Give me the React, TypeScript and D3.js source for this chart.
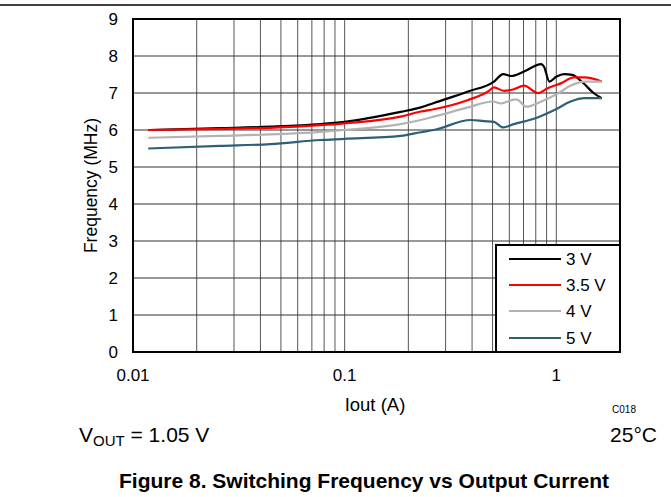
import React from "react";
import * as d3 from "d3";

const yTicks = [0, 1, 2, 3, 4, 5, 6, 7, 8, 9];
const xTickLabels = ["0.01", "0.1", "1"];
const xTickValues = [0.01, 0.1, 1];

const seriesNames = ["3 V", "3.5 V", "4 V", "5 V"];
const seriesColors = ["#000000", "#ff0000", "#b3b3b3", "#2e5f78"];

const s3V: [number, number][] = [
  [0.0118, 6.0], [0.0258, 6.05], [0.0446, 6.09], [0.077, 6.16], [0.1, 6.22],
  [0.184, 6.49], [0.229, 6.61], [0.264, 6.73], [0.383, 7.04], [0.508, 7.31],
  [0.561, 7.51], [0.612, 7.46], [0.704, 7.58], [0.849, 7.78], [0.875, 7.71],
  [0.927, 7.31], [1.0, 7.44], [1.09, 7.51], [1.19, 7.49], [1.34, 7.27],
  [1.5, 7.0], [1.64, 6.86],
];
const s35V: [number, number][] = [
  [0.0118, 6.0], [0.0258, 6.03], [0.0446, 6.06], [0.077, 6.13], [0.1, 6.18],
  [0.184, 6.36], [0.229, 6.5], [0.264, 6.56], [0.383, 6.81], [0.476, 7.04],
  [0.508, 7.15], [0.566, 7.06], [0.63, 7.1], [0.704, 7.2], [0.82, 7.0],
  [0.91, 7.13], [1.05, 7.26], [1.21, 7.42], [1.36, 7.42], [1.64, 7.31],
];
const s4V: [number, number][] = [
  [0.0118, 5.79], [0.0258, 5.84], [0.0446, 5.88], [0.077, 5.95], [0.1, 6.0],
  [0.184, 6.16], [0.229, 6.27], [0.264, 6.36], [0.383, 6.61], [0.5, 6.77],
  [0.55, 6.72], [0.64, 6.83], [0.66, 6.81], [0.72, 6.63], [0.85, 6.77],
  [1.02, 6.99], [1.17, 7.2], [1.36, 7.31], [1.64, 7.31],
];
const s5V: [number, number][] = [
  [0.0118, 5.5], [0.0258, 5.57], [0.0446, 5.62], [0.077, 5.73], [0.1, 5.76],
  [0.184, 5.84], [0.229, 5.94], [0.264, 6.0], [0.395, 6.27], [0.455, 6.24],
  [0.508, 6.22], [0.56, 6.07], [0.63, 6.16], [0.79, 6.31], [0.98, 6.54],
  [1.17, 6.77], [1.36, 6.86], [1.64, 6.86],
];
const seriesData = [s3V, s35V, s4V, s5V];

const W = 671;
const H = 497;
const L = 133, R = 620, T = 19, B = 352;
const FONT = "Liberation Sans, Arial, sans-serif";

export default function App() {
  const x = d3.scaleLog().domain([0.01, 2]).range([L, R]);
  const y = d3.scaleLinear().domain([0, 9]).range([B, T]);

  const minor: number[] = [];
  for (const dec of [0.01, 0.1, 1]) {
    for (let k = 1; k <= 9; k++) {
      const v = dec * k;
      if (v > 0.01 && v < 2) minor.push(v);
    }
  }

  const line = d3
    .line<[number, number]>()
    .x((d) => x(d[0]))
    .y((d) => y(d[1]))
    .curve(d3.curveMonotoneX);

  const legX = 496, legY = 245, legW = 124, legH = 107;
  const rowY = [259, 285, 311, 338];

  return (
    <svg
      width={W}
      height={H}
      style={{ position: "absolute", left: 0, top: 0, background: "#fff" }}
      fontFamily={FONT}
    >
      <rect x={0} y={0} width={W} height={H} fill="#fff" />
      <line x1={0} x2={W} y1={5} y2={5} stroke="#000" strokeWidth={1.5} />

      {/* grid */}
      {minor.map((v, i) => (
        <line key={"vx" + i} x1={x(v)} x2={x(v)} y1={T} y2={B} stroke="#555" strokeWidth={1} />
      ))}
      {yTicks.slice(1, -1).map((v) => (
        <line key={"hy" + v} x1={L} x2={R} y1={y(v)} y2={y(v)} stroke="#333" strokeWidth={1} />
      ))}

      {/* series */}
      {seriesData.map((d, i) => (
        <path key={i} d={line(d) || ""} fill="none" stroke={seriesColors[i]} strokeWidth={2.2} strokeLinejoin="round" />
      ))}

      {/* frame */}
      <rect x={L} y={T} width={R - L} height={B - T} fill="none" stroke="#000" strokeWidth={2} />

      {/* legend */}
      <rect x={legX} y={legY} width={legW} height={legH} fill="#fff" stroke="#000" strokeWidth={2} />
      {seriesNames.map((n, i) => (
        <g key={n}>
          <line x1={509} x2={561} y1={rowY[i]} y2={rowY[i]} stroke={seriesColors[i]} strokeWidth={2.2} />
          <text x={566} y={rowY[i]} dy="0.36em" fontSize={17}>{n}</text>
        </g>
      ))}

      {/* y tick labels */}
      {yTicks.map((v) => (
        <text key={"yt" + v} x={118} y={y(v)} dy="0.36em" textAnchor="end" fontSize={17}>{v}</text>
      ))}
      {/* x tick labels */}
      {xTickValues.map((v, i) => (
        <text key={"xt" + i} x={x(v)} y={381} textAnchor="middle" fontSize={17}>{xTickLabels[i]}</text>
      ))}

      <text transform={`translate(97,${(T + B) / 2}) rotate(-90)`} textAnchor="middle" fontSize={17.5}>Frequency (MHz)</text>
      <text x={375} y={411} textAnchor="middle" fontSize={18.5}>Iout (A)</text>
      <text x={624} y={413} textAnchor="middle" fontSize={10}>C018</text>

      <text x={79} y={442} fontSize={21}>
        V<tspan fontSize={15} dy={4}>OUT</tspan><tspan dy={-4}> = 1.05 V</tspan>
      </text>
      <text x={657} y={442} textAnchor="end" fontSize={21}>25°C</text>

      <text x={364} y={488} textAnchor="middle" fontSize={21} fontWeight="bold">Figure 8. Switching Frequency vs Output Current</text>
    </svg>
  );
}
